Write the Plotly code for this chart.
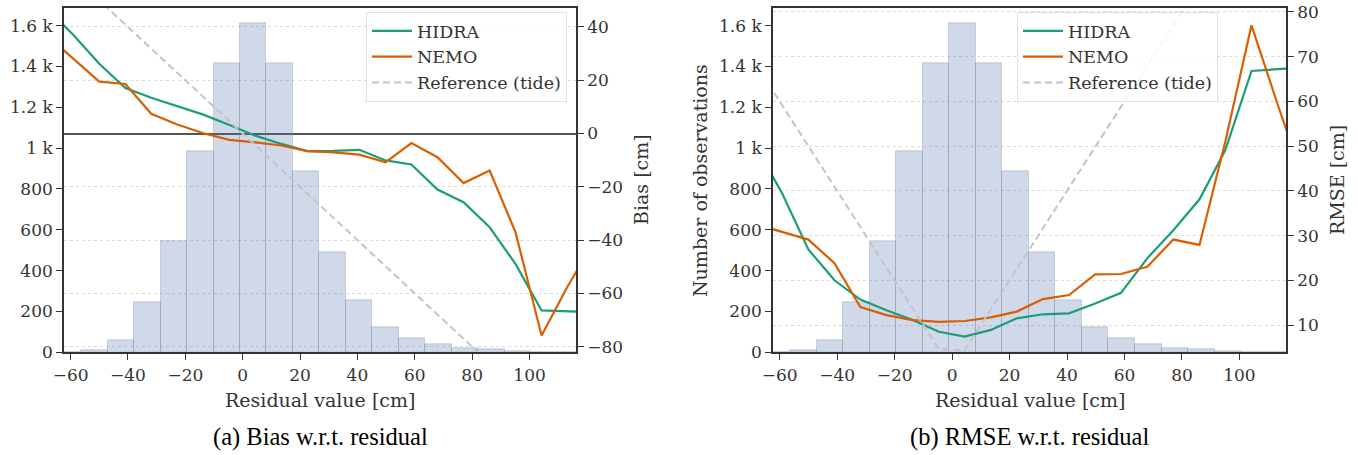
import numpy as np
import plotly.graph_objects as go

# ---------------- data ----------------
bin_edges = [-65.56, -56.33, -47.10, -37.87, -28.64, -19.41, -10.18, -0.95, 8.28, 17.51,
             26.74, 35.97, 45.20, 54.43, 63.66, 72.89, 82.12, 91.35, 100.58, 109.81, 119.04]
counts = [2, 12, 60, 244, 545, 986, 1417, 1610, 1417, 885,
          492, 255, 124, 70, 39, 18, 13, 3, 1, 1]

line_x = [-68.1, -59.1, -50.0, -40.9, -31.9, -22.8, -13.7, -4.6, 4.4, 13.5, 22.5,
          31.6, 40.7, 49.8, 58.8, 67.9, 77.0, 86.1, 95.1, 104.2, 113.3, 122.3]

hidra_bias = [46.7, 37.1, 26.2, 17.1, 13.4, 10.1, 7.1, 3.2, -0.8, -3.9, -6.6,
              -6.5, -6.1, -10.1, -11.6, -21.0, -25.8, -35.2, -48.9, -66.4, -66.8, -67.1]
nemo_bias = [36.7, 28.0, 19.5, 18.6, 7.4, 3.4, 0.1, -2.4, -3.3, -4.5, -6.6,
             -7.1, -7.9, -10.8, -3.6, -8.9, -18.6, -13.9, -37.0, -75.8, -57.3, -40.8]
ref_bias = [68.1, 59.1, 50.0, 40.9, 31.9, 22.8, 13.7, 4.6, -4.4, -13.5, -22.5,
            -31.6, -40.7, -49.8, -58.8, -67.9, -77.0, -86.1, -95.1, -104.2, -113.3, -122.3]

hidra_rmse = [49.8, 39.4, 26.9, 20.0, 15.7, 13.3, 11.1, 8.5, 7.4, 8.9, 11.5,
              12.4, 12.6, 14.8, 17.2, 24.9, 31.2, 38.1, 49.1, 66.8, 67.2, 67.6]
nemo_rmse = [32.5, 30.8, 29.1, 23.8, 14.0, 12.2, 11.1, 10.7, 10.9, 11.7, 13.0,
             15.8, 16.7, 21.3, 21.4, 23.0, 29.1, 27.9, 51.0, 77.0, 59.3, 42.5]
ref_rmse = [68.1, 59.1, 50.0, 40.9, 31.9, 22.8, 13.7, 4.6, 4.4, 13.5, 22.5,
            31.6, 40.7, 49.8, 58.8, 67.9, 77.0, 86.1, 95.1, 104.2, 113.3, 122.3]

x_ticks = [-60, -40, -20, 0, 20, 40, 60, 80, 100]
count_ticks = [0, 200, 400, 600, 800, 1000, 1200, 1400, 1600]
count_ticktext = ["0", "200", "400", "600", "800", "1 k", "1.2 k", "1.4 k", "1.6 k"]
bias_ticks = [-80, -60, -40, -20, 0, 20, 40]
rmse_ticks = [10, 20, 30, 40, 50, 60, 70, 80]

# ---------------- style ----------------
W, H = 1358, 455
FONT = "DejaVu Serif"
TXT = "#333333"
AX = "#333333"
GREEN = "#1b9e77"
ORANGE = "#d95f02"
REFC = "#c4c4c4"
BARC = "rgba(76,114,176,0.27)"
BARL = "rgba(120,125,145,0.3)"

edges = np.array(bin_edges)
centers = (edges[:-1] + edges[1:]) / 2
widths = np.diff(edges)


def px(xp):
    return xp / W


def py(yp):
    return 1 - yp / H


xd1 = [px(64), px(576)]
xd2 = [px(773), px(1286)]
yd = [py(352.3), py(8.3)]
xr = [-62.3, 116.2]

fig = go.Figure()

# left panel
fig.add_trace(go.Bar(x=centers, y=counts, width=widths, xaxis="x", yaxis="y",
                     marker=dict(color=BARC, line=dict(color=BARL, width=1)),
                     showlegend=False, hoverinfo="skip"))
fig.add_trace(go.Scatter(x=line_x, y=hidra_bias, xaxis="x", yaxis="y2", mode="lines",
                         name="HIDRA", line=dict(color=GREEN, width=2.2), legend="legend"))
fig.add_trace(go.Scatter(x=line_x, y=nemo_bias, xaxis="x", yaxis="y2", mode="lines",
                         name="NEMO", line=dict(color=ORANGE, width=2.2), legend="legend"))
fig.add_trace(go.Scatter(x=line_x, y=ref_bias, xaxis="x", yaxis="y2", mode="lines",
                         name="Reference (tide)", line=dict(color=REFC, width=2, dash="7px,4px"),
                         legend="legend"))

# right panel
fig.add_trace(go.Bar(x=centers, y=counts, width=widths, xaxis="x2", yaxis="y3",
                     marker=dict(color=BARC, line=dict(color=BARL, width=1)),
                     showlegend=False, hoverinfo="skip"))
fig.add_trace(go.Scatter(x=line_x, y=hidra_rmse, xaxis="x2", yaxis="y4", mode="lines",
                         name="HIDRA", line=dict(color=GREEN, width=2.2), legend="legend2"))
fig.add_trace(go.Scatter(x=line_x, y=nemo_rmse, xaxis="x2", yaxis="y4", mode="lines",
                         name="NEMO", line=dict(color=ORANGE, width=2.2), legend="legend2"))
fig.add_trace(go.Scatter(x=line_x, y=ref_rmse, xaxis="x2", yaxis="y4", mode="lines",
                         name="Reference (tide)", line=dict(color=REFC, width=2, dash="7px,4px"),
                         legend="legend2"))

tickfont = dict(family=FONT, size=17, color=TXT)
common_ax = dict(showline=True, linecolor=AX, linewidth=1.6, ticks="outside", ticklen=6,
                 tickwidth=1.4, tickcolor=AX, tickfont=tickfont, automargin=False)

xaxis_common = dict(range=xr, tickvals=x_ticks, showgrid=False, mirror=True,
                    zeroline=False, **common_ax)
count_common = dict(range=[0, 1685], tickvals=count_ticks, ticktext=count_ticktext,
                    showgrid=False, side="left", zeroline=False, **common_ax)
grid = dict(showgrid=True, gridcolor="#dcdcdc", gridwidth=1, griddash="dot")

legend_common = dict(yanchor="top", xanchor="right", bgcolor="rgba(255,255,255,0.85)",
                     bordercolor="#e0e0e0", borderwidth=1, itemwidth=40,
                     font=dict(family=FONT, size=17.5, color=TXT), tracegroupgap=0)

fig.update_layout(
    width=W, height=H, autosize=False,
    margin=dict(l=0, r=0, t=0, b=0),
    paper_bgcolor="white", plot_bgcolor="rgba(0,0,0,0)",
    barmode="overlay", bargap=0,
    xaxis=dict(domain=xd1, anchor="y", **xaxis_common),
    xaxis2=dict(domain=xd2, anchor="y3", **xaxis_common),
    yaxis=dict(domain=yd, anchor="x", **count_common),
    yaxis2=dict(range=[-82.1, 47.0], tickvals=bias_ticks, overlaying="y", side="right",
                anchor="x", zeroline=True, zerolinecolor="#555555", zerolinewidth=1.6,
                **grid, **common_ax),
    yaxis3=dict(domain=yd, anchor="x2", **count_common),
    yaxis4=dict(range=[3.9, 80.8], tickvals=rmse_ticks, overlaying="y3", side="right",
                anchor="x2", zeroline=False, **grid, **common_ax),
    legend=dict(x=px(567), y=py(12), **legend_common),
    legend2=dict(x=px(1218), y=py(12), **legend_common),
    showlegend=True,
)

title_font = dict(family=FONT, size=19, color=TXT)
cap_font = dict(family="Liberation Serif", size=24.5, color="black")
ann = [
    dict(text="Residual value [cm]", x=px(320), y=py(400), font=title_font),
    dict(text="Residual value [cm]", x=px(1029.5), y=py(400), font=title_font),
    dict(text="(a) Bias w.r.t. residual", x=px(320), y=py(437), font=cap_font),
    dict(text="(b) RMSE w.r.t. residual", x=px(1029.5), y=py(437), font=cap_font),
    dict(text="Bias [cm]", x=px(641), y=py(180), font=title_font, textangle=-90),
    dict(text="Number of observations", x=px(700), y=py(180), font=title_font, textangle=-90),
    dict(text="RMSE [cm]", x=px(1337), y=py(180), font=title_font, textangle=-90),
]
for a in ann:
    fig.add_annotation(xref="paper", yref="paper", xanchor="center", yanchor="middle",
                       showarrow=False, **a)

fig.write_html(
    "out.html",
    config={"displayModeBar": False},
    post_script="document.body.style.margin='0';document.body.style.overflow='hidden';",
)
